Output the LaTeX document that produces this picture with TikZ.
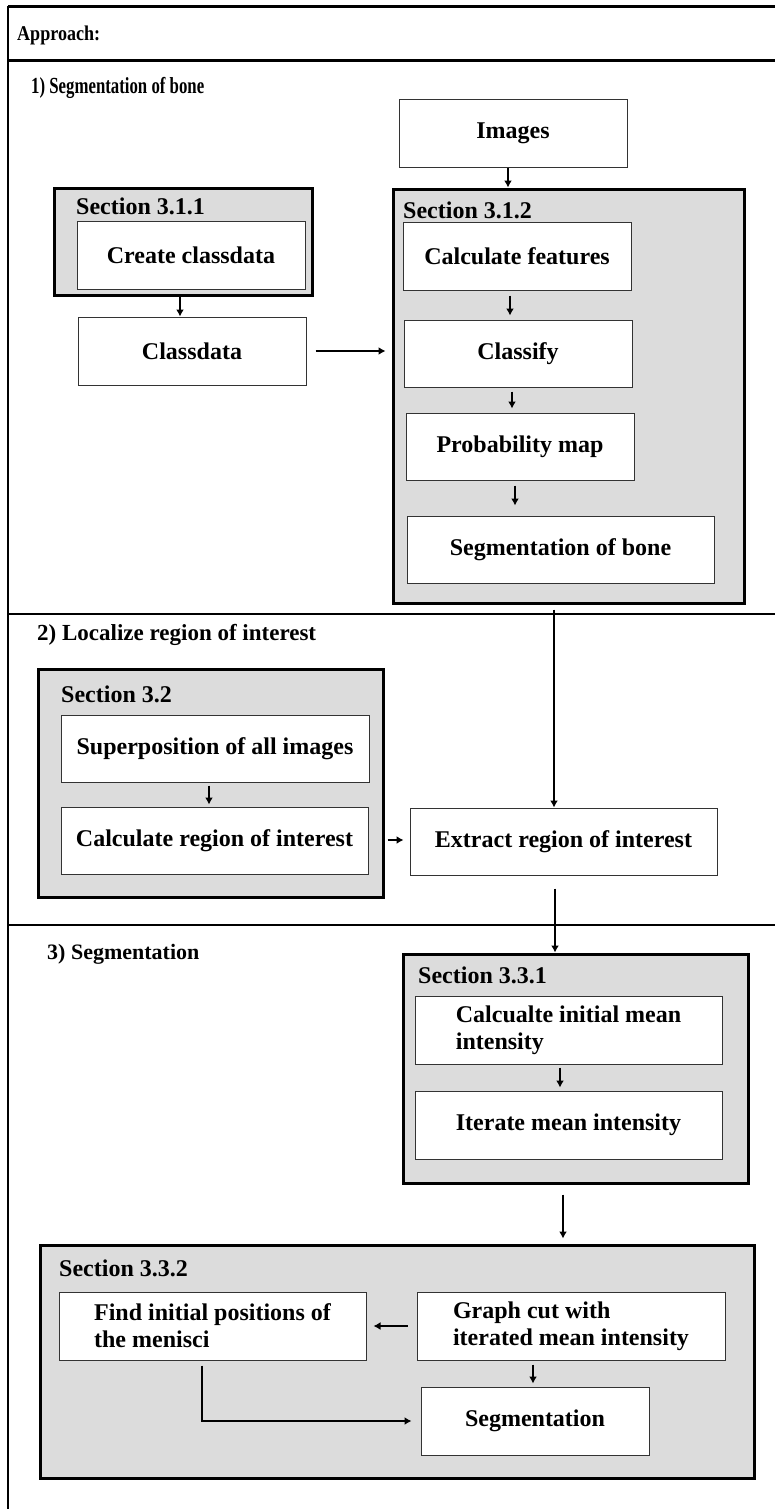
\documentclass[tikz,border=0pt]{standalone}
\usepackage{fontspec}
\setmainfont{Liberation Serif}
\usetikzlibrary{arrows.meta,positioning}
\definecolor{secgray}{RGB}{220,220,220}

\begin{document}
\begin{tikzpicture}[x=1pt,y=-1pt,
  every node/.style={font=\bfseries\fontsize{24}{27}\selectfont},
  wbox/.style={draw=black!80,line width=1pt,fill=white,inner sep=0pt,
    minimum width=307pt,minimum height=68pt,align=left},
  gbox/.style={draw=black,line width=3pt,fill=secgray,inner sep=0pt},
  sect/.style={anchor=west,inner sep=0pt},
  head/.style={anchor=west,inner sep=0pt},
  arr/.style={line width=2pt,-{Latex[length=7pt,width=8pt]}},
  rule/.style={line width=2pt}]
\useasboundingbox (0,0) rectangle (775,1509);
\draw[line width=3pt] (8,7) -- (775,7);
\draw[rule] (8,6) -- (8,1509);
\draw[line width=3pt] (8,61) -- (775,61);
\draw[rule] (8,614) -- (775,614);
\draw[rule] (8,925) -- (775,925);

\node[head,font=\bfseries\fontsize{21}{23}\selectfont] (approach) at (17,35) {\scalebox{0.86}[1]{Approach:}};
\node[head,font=\bfseries\fontsize{23}{25}\selectfont] (head1) at (31,88) {\scalebox{0.73}[1]{1) Segmentation of bone}};
\node[head,font=\bfseries\fontsize{23}{25}\selectfont] (head2) at (37,635) {2) Localize region of interest};
\node[head,font=\bfseries\fontsize{22}{24}\selectfont] (head3) at (47,954) {3) Segmentation};

\node[gbox,minimum width=258pt,minimum height=107pt] (sec311) at (183,241.5) {};
\node[gbox,minimum width=351pt,minimum height=414pt] (sec312) at (568.5,396) {};
\node[gbox,minimum width=345pt,minimum height=228pt] (sec32) at (210.5,783) {};
\node[gbox,minimum width=345pt,minimum height=229pt] (sec331) at (575.5,1068.5) {};
\node[gbox,minimum width=714pt,minimum height=233pt] (sec332) at (397,1361.5) {};

\node[sect] (lab311) at (76,206) {Section 3.1.1};
\node[sect] (lab312) at (403,210) {Section 3.1.2};
\node[sect] (lab32) at (61,694) {Section 3.2};
\node[sect] (lab331) at (418,975) {Section 3.3.1};
\node[sect] (lab332) at (59,1268) {Section 3.3.2};

\node[wbox,minimum width=228pt,minimum height=67pt] (images) at (513,133.5) {Images};
\node[wbox,minimum width=228pt] (createcd) at (191,255) {Create classdata};
\node[wbox,minimum width=228pt] (classdata) at (192,351) {Classdata};
\node[wbox,minimum width=228pt] (calcfeat) at (517,256) {Calculate features};
\node[wbox,minimum width=228pt,minimum height=67pt] (classify) at (518,353.5) {Classify};
\node[wbox,minimum width=228pt,minimum height=67pt] (probmap) at (520,446.5) {Probability map};
\node[wbox,minimum height=67pt] (segbone) at (560.5,549.5) {Segmentation of bone};
\node[wbox,minimum width=308pt,minimum height=67pt] (superpos) at (215,748.5) {Superposition of all images};
\node[wbox,minimum height=67pt] (calcroi) at (214.5,840.5) {Calculate region of interest};
\node[wbox,minimum height=67pt] (extract) at (563.5,841.5) {Extract region of interest};
\node[wbox] (calcinit) at (568.5,1030) {Calcualte initial mean\\intensity};
\node[wbox] (iterate) at (568.5,1125) {Iterate mean intensity};
\node[wbox] (findpos) at (212.5,1326) {Find initial positions of\\the menisci};
\node[wbox,minimum width=308pt] (graphcut) at (571,1326) {Graph cut with\\iterated mean intensity};
\node[wbox,minimum width=228pt] (segm) at (535,1421) {Segmentation};

\draw[arr] (images.south -| 508,0) -- (sec312.north -| 508,0);
\draw[arr] (sec311.south -| 180,0) -- (classdata.north -| 180,0);
\draw[arr,shorten <=9pt,shorten >=6pt] (classdata.east) -- (sec312.west |- classdata.east);
\draw[arr,shorten <=5pt,shorten >=4pt] (calcfeat.south -| 510,0) -- (classify.north -| 510,0);
\draw[arr,shorten <=4pt,shorten >=4pt] (classify.south -| 512,0) -- (probmap.north -| 512,0);
\draw[arr,shorten <=5pt,shorten >=10pt] (probmap.south -| 515,0) -- (segbone.north -| 515,0);
\draw[arr,shorten <=5pt] (sec312.south -| 554,0) -- (extract.north -| 554,0);
\draw[arr,shorten <=3pt,shorten >=2pt] (superpos.south -| 209,0) -- (calcroi.north -| 209,0);
\draw[arr,shorten <=19pt,shorten >=6pt] (calcroi.east |- 0,840) -- (extract.west |- 0,840);
\draw[arr,shorten <=13pt] (extract.south -| 555,0) -- (sec331.north -| 555,0);
\draw[arr,shorten <=3pt,shorten >=3pt] (calcinit.south -| 560,0) -- (iterate.north -| 560,0);
\draw[arr,shorten <=10pt,shorten >=5pt] (sec331.south -| 563,0) -- (sec332.north -| 563,0);
\draw[arr,shorten <=9pt,shorten >=7pt] (graphcut.west) -- (findpos.east);
\draw[arr,shorten <=4pt,shorten >=3pt] (graphcut.south -| 533,0) -- (segm.north -| 533,0);
\draw[arr,shorten <=5pt,shorten >=9pt] (findpos.south -| 202,0) |- (segm.west);
\end{tikzpicture}
\end{document}
